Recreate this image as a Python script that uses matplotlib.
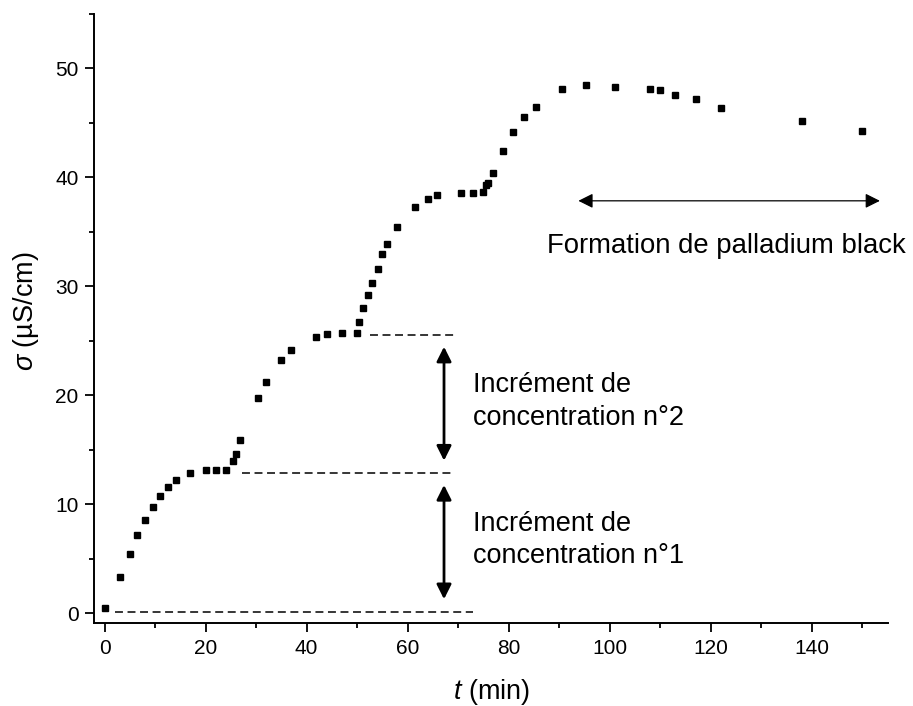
import matplotlib
matplotlib.use("Agg")
import matplotlib.pyplot as plt
from matplotlib.ticker import MultipleLocator

plt.rcParams['font.family'] = ['Liberation Sans', 'DejaVu Sans']
plt.rcParams['mathtext.fontset'] = 'custom'
plt.rcParams['mathtext.it'] = 'Liberation Sans:italic'
plt.rcParams['mathtext.rm'] = 'Liberation Sans'

t_min = [0.0, 2.97, 4.95, 6.46, 7.98, 9.5, 10.95, 12.47, 14.2, 17.0, 20.0, 22.0, 23.96,
         25.5, 26.0, 26.9, 30.36, 31.9, 34.97, 36.95, 41.8, 43.96, 47.0, 49.9, 50.3,
         51.1, 52.1, 53.0, 54.06, 54.97, 56.0, 57.95, 61.5, 63.96, 65.9, 70.5, 72.9,
         74.97, 75.5, 76.0, 76.96, 78.9, 80.9, 82.97, 85.5, 90.5, 95.4, 101.0,
         107.98, 109.96, 113.0, 117.0, 122.0, 138.0, 150.0]
sigma = [0.46, 3.3, 5.41, 7.16, 8.59, 9.78, 10.79, 11.61, 12.26, 12.84, 13.12, 13.15, 13.15,
         14.0, 14.64, 15.87, 19.78, 21.25, 23.24, 24.16, 25.32, 25.6, 25.69, 25.69, 26.75,
         27.98, 29.2, 30.28, 31.59, 32.96, 33.88, 35.47, 37.28, 37.98, 38.4, 38.59, 38.59,
         38.68, 39.27, 39.5, 40.37, 42.39, 44.18, 45.56, 46.48, 48.07, 48.47, 48.26,
         48.07, 47.98, 47.58, 47.18, 46.39, 45.17, 44.28]

# dashed reference levels: (level, x_start, x_end)
levels = [(0.1, 2.0, 72.9), (12.84, 27.3, 69.0), (25.5, 52.5, 69.4)]
# vertical increment arrows: (x, y_top, y_bottom)
incr_arrows = [(67.2, 24.46, 14.0), (67.2, 11.77, 1.28)]
incr_labels = ["Incrément de\nconcentration n°2", "Incrément de\nconcentration n°1"]
incr_label_pos = [(72.9, 17.3), (72.9, 4.6)]
pd_arrow = (93.8, 153.5, 37.85)
pd_label = "Formation de palladium black"

fig = plt.figure(figsize=(9.13, 7.06), dpi=100)
ax = fig.add_axes([0.1035, 0.1176, 0.8691, 0.8626])

ax.plot(t_min, sigma, linestyle='none', marker='s', markersize=5, color='black')

for lvl, x0, x1 in levels:
    ax.plot([x0, x1], [lvl, lvl], linestyle=(0, (5.2, 3.0)), color='black', linewidth=1.1)

for x, ytop, ybot in incr_arrows:
    ax.annotate('', xy=(x, ybot), xytext=(x, ytop),
                arrowprops=dict(arrowstyle='<|-|>', color='black', lw=2.0,
                                mutation_scale=22, shrinkA=0, shrinkB=0))

ax.annotate('', xy=(pd_arrow[1], pd_arrow[2]), xytext=(pd_arrow[0], pd_arrow[2]),
            arrowprops=dict(arrowstyle='<|-|>', color='black', lw=0.9,
                            mutation_scale=22, shrinkA=0, shrinkB=0))

for (lx, ly), lab in zip(incr_label_pos, incr_labels):
    ax.text(lx, ly, lab, fontsize=19.5, ha='left', va='baseline', linespacing=1.32)
ax.text(87.5, 33.06, pd_label, fontsize=19.8, ha='left', va='baseline')

ax.set_xlim(-2, 155.1)
ax.set_ylim(-0.9, 55)
ax.xaxis.set_major_locator(MultipleLocator(20))
ax.xaxis.set_minor_locator(MultipleLocator(10))
ax.yaxis.set_major_locator(MultipleLocator(10))
ax.yaxis.set_minor_locator(MultipleLocator(5))

for s in ['top', 'right']:
    ax.spines[s].set_visible(False)
for s in ['left', 'bottom']:
    ax.spines[s].set_linewidth(1.4)

ax.tick_params(which='major', direction='out', length=6.5, width=1.3, labelsize=15, pad=5)
ax.tick_params(which='minor', direction='out', length=3.5, width=1.3)

ax.set_xlabel(r'$t$ (min)', fontsize=19.5)
ax.set_ylabel(r'$\sigma$ (µS/cm)', fontsize=19.5)
ax.xaxis.set_label_coords(0.5, -0.088)
ax.yaxis.set_label_coords(-0.068, 0.512)

fig.savefig('out.png', dpi=100)
